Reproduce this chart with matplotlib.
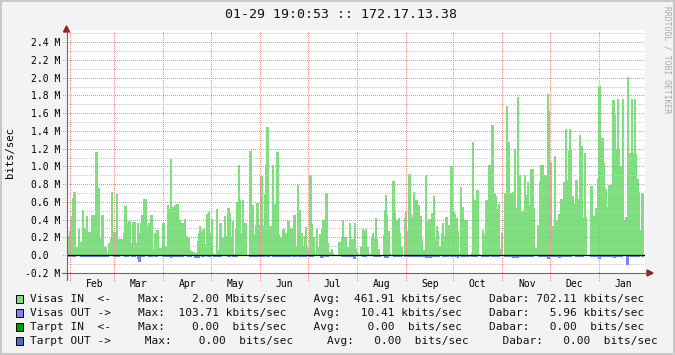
import numpy as np
import matplotlib
matplotlib.use("Agg")
import matplotlib.pyplot as plt
import matplotlib.dates as mdates
from matplotlib.patches import Rectangle, Polygon
from matplotlib.lines import Line2D
from datetime import datetime, timedelta

plt.rcParams['font.family'] = ['DejaVu Sans Mono']

# ---------------- data (one value per time step, Mbit/s and kbit/s) ----------------
visas_in_mbit = [
    .21,.21,.26,.38,.43,.64,.71,.71,.08,.08,
    .08,.29,.05,.14,.14,.50,.30,.30,.30,.44,
    .25,.25,.25,.25,.45,.32,.45,.45,1.16,1.16,
    .75,.75,.19,.13,.45,.45,.08,.08,.08,.02,
    .02,.13,.13,.19,.71,.26,.25,.25,.25,.68,
    .17,.17,.17,.17,.17,.17,.24,.55,.55,.36,
    .09,.38,.38,.13,.13,.37,.37,.37,.13,.13,
    .36,.24,.24,.36,.45,.45,.63,.63,.63,.32,
    .32,.36,.36,.45,.45,.06,.06,.24,.24,.28,
    .28,.07,.07,.07,.07,.36,.36,.10,.10,.10,
    .56,.51,.51,1.08,.54,.54,.43,.56,.56,.57,
    .57,.39,.39,.09,.36,.36,.36,.40,.21,.21,
    .19,.19,.05,.04,.04,.03,.03,.01,.02,.02,
    .15,.24,.32,.26,.26,.29,.29,.12,.12,.46,
    .46,.48,.24,.24,.40,.02,0,.01,.01,.51,
    .05,.05,.35,.35,.19,.19,.19,.44,.21,.21,
    .52,.52,.47,.19,.19,.38,.01,.01,.29,.59,
    .59,1.01,.62,.24,.24,.61,.36,.36,.36,0,
    0,0,1.17,1.17,.42,.56,.23,.13,.33,.58,
    .58,.33,.33,.89,.89,.32,.32,.68,1.01,1.44,
    1.44,.32,.32,.32,.32,1.01,.57,.57,.57,1.16,
    1.16,.23,.20,.20,.18,.29,.29,.24,.24,.24,
    .38,.38,0,.30,.30,.10,.45,.45,.10,.10,
    .79,.50,.50,.10,.24,.10,.10,.21,.31,.09,
    .04,.04,.90,.90,.34,.20,.20,.02,0,.29,
    .08,.08,.23,.23,.29,.39,.39,.39,.69,.69,
    .13,.03,.03,0,.06,.02,0,0,0,0,
    0,.14,.14,.14,.20,.39,.20,.20,.20,.09,
    0,.08,.35,.18,.18,.18,.18,.36,.06,.02,
    .02,0,0,.08,.08,.29,.26,.26,.29,.08,
    .08,.02,0,0,.19,.24,.19,.19,.41,.18,
    .06,.06,0,0,0,0,.22,.50,.67,.45,
    .26,.26,.02,0,0,.83,.83,.50,.39,.39,
    .39,.41,.24,.08,.08,0,0,.41,.48,.26,
    .26,.91,.91,.46,.42,.42,.70,.61,.61,.61,
    .56,.56,.33,.44,.18,.05,.05,.05,.90,.37,
    .37,.40,.40,.14,.47,.47,.66,.18,.18,.32,
    .26,.10,.10,.01,.24,.35,.21,.21,.42,.42,
    .33,.33,.22,1.00,1.00,.48,.48,.46,.41,.41,
    .26,.01,.02,.76,.54,.54,.39,.39,.39,.39,
    0,0,0,0,.02,1.27,.61,.61,.12,.73,
    .73,.01,0,0,0,.28,.23,.23,.61,.61,
    .15,1.01,1.01,.03,1.46,1.46,.69,.69,.66,.51,
    .51,.57,.06,.06,.24,0,0,.69,.69,1.68,
    1.27,1.27,.44,.69,.69,.70,.70,1.19,.52,.52,
    1.78,.90,.90,.49,.49,.49,0,.90,.67,.67,
    .82,.56,.56,.96,.96,.96,.52,.07,.07,0,
    .33,.33,.82,1.01,1.01,1.01,.50,.90,.90,.90,
    1.81,1.62,1.04,1.04,.25,.32,.32,1.11,.38,.38,
    .14,.46,.46,.63,.63,.34,.82,.82,1.42,.84,
    .84,1.18,1.42,1.18,.66,.66,.58,.58,.84,.84,
    .63,.63,1.35,1.22,1.22,.42,.42,1.15,.42,0,
    0,0,0,.77,.77,.36,.44,.44,.53,.53,
    .85,1.90,1.90,1.11,1.31,1.31,1.03,.74,.74,.39,
    .54,.78,.78,.78,.78,1.74,1.74,1.57,1.19,1.19,
    1.75,1.19,1.00,1.00,1.00,1.75,.39,.39,.42,.42,
    2.00,1.14,1.14,1.14,1.75,1.14,1.14,1.75,1.13,.85,
    .85,.70,.28,.28,.69,.69,
]

visas_out_kbit = [
    20,20,20,20,20,20,20,20,0,0,
    0,0,0,15,15,15,15,15,15,15,
    15,15,15,15,20,20,20,20,20,20,
    20,20,20,20,20,15,15,15,15,15,
    15,0,0,0,0,0,15,15,15,15,
    15,15,0,0,0,0,0,15,15,15,
    15,0,0,0,15,15,15,15,0,0,
    40,75,75,15,15,15,15,0,0,0,
    0,15,15,15,15,0,0,15,15,15,
    0,0,0,0,0,15,15,15,15,15,
    15,15,15,25,15,15,15,15,15,15,
    15,15,15,15,15,15,0,0,0,0,
    15,15,15,15,0,0,0,25,25,25,
    25,25,0,0,15,15,15,0,0,0,
    15,15,15,0,0,0,15,15,15,15,
    15,15,15,15,0,0,0,0,0,0,
    15,15,15,0,0,15,15,15,15,15,
    0,0,0,0,0,0,0,0,0,0,
    0,0,15,15,15,15,15,15,15,15,
    15,15,15,15,15,15,15,0,0,15,
    15,15,0,0,0,15,15,15,15,15,
    15,15,15,15,15,15,15,15,15,15,
    15,15,15,0,0,15,15,15,15,0,
    0,15,15,15,15,15,15,15,15,0,
    0,15,15,15,15,15,0,0,0,0,
    0,0,0,25,25,25,0,0,15,15,
    15,0,0,0,0,0,0,0,0,0,
    0,0,0,0,15,15,15,15,15,15,
    15,15,15,15,15,15,40,40,0,0,
    0,0,0,0,0,15,15,15,15,0,
    0,0,0,0,0,0,15,15,15,15,
    15,15,15,0,0,0,0,25,25,25,
    25,0,0,0,0,0,15,15,15,15,
    15,15,15,15,0,0,0,15,15,15,
    15,15,15,15,15,15,15,15,15,15,
    15,15,15,15,15,15,15,15,30,30,
    30,30,30,30,15,15,15,15,15,15,
    15,15,0,0,0,15,15,15,15,15,
    15,0,0,15,15,15,15,15,15,15,
    30,0,0,15,15,15,15,15,15,15,
    15,15,0,0,15,15,15,15,15,15,
    0,0,0,0,15,15,15,15,15,15,
    15,15,0,0,15,15,15,15,15,15,
    15,15,0,0,0,0,0,15,15,15,
    15,15,15,15,15,30,30,30,30,30,
    30,15,15,15,15,15,0,15,15,15,
    15,15,15,15,15,15,0,0,0,0,
    0,15,15,15,15,15,15,15,15,15,
    35,35,15,15,15,15,15,15,15,15,
    15,25,25,0,15,15,15,15,15,15,
    15,0,15,15,0,0,0,0,15,15,
    15,15,15,15,15,15,0,0,0,0,
    0,0,0,15,15,15,15,15,15,15,
    15,45,45,15,15,15,15,15,15,15,
    15,15,15,15,15,15,25,25,15,15,
    15,15,15,15,15,0,0,0,0,104,
    104,15,15,15,15,15,15,15,15,15,
    15,15,0,0,15,15,
]
assert len(visas_in_mbit) == len(visas_out_kbit) == 576

month_labels = ["Feb", "Mar", "Apr", "May", "Jun", "Jul", "Aug", "Sep", "Oct", "Nov", "Dec", "Jan"]
y_major = [-0.2, 0.0, 0.2, 0.4, 0.6, 0.8, 1.0, 1.2, 1.4, 1.6, 1.8, 2.0, 2.2, 2.4]
y_labels = ["-0.2 M", "0.0  ", "0.2 M", "0.4 M", "0.6 M", "0.8 M", "1.0 M", "1.2 M",
            "1.4 M", "1.6 M", "1.8 M", "2.0 M", "2.2 M", "2.4 M"]
y_minor = [-0.1, 0.1, 0.3, 0.5, 0.7, 0.9, 1.1, 1.3, 1.5, 1.7, 1.9, 2.1, 2.3, 2.5]

title = "01-29 19:0:53 :: 172.17.13.38"
legend_rows = [
    "Visas IN  <-    Max:    2.00 Mbits/sec    Avg:  461.91 kbits/sec    Dabar: 702.11 kbits/sec",
    "Visas OUT ->    Max:  103.71 kbits/sec    Avg:   10.41 kbits/sec    Dabar:   5.96 kbits/sec",
    "Tarpt IN  <-    Max:    0.00  bits/sec    Avg:    0.00  bits/sec    Dabar:   0.00  bits/sec",
    "Tarpt OUT ->     Max:    0.00  bits/sec     Avg:   0.00  bits/sec     Dabar:   0.00  bits/sec",
]
legend_colors = ["#80dd80", "#8080ff", "#009900", "#4d6bc4"]

# ---------------- figure ----------------
W, H = 675, 355
fig = plt.figure(figsize=(W / 100, H / 100), dpi=100, facecolor="#f3f3f3")

def fx(px):
    return px / W

def fy(py):
    return 1 - py / H

ax_l, ax_r, ax_t, ax_b = 66.5, 645, 30, 273
ax = fig.add_axes([fx(ax_l), fy(ax_b), (ax_r - ax_l) / W, (ax_b - ax_t) / H])
ax.set_facecolor("white")
for s in ax.spines.values():
    s.set_visible(False)

end = datetime(2011, 1, 29, 19, 0, 53)
start = end - timedelta(days=365)
t0 = mdates.date2num(start)
step = 365.0 / 578.0
n = len(visas_in_mbit)
edges = t0 + (1 + np.arange(n + 1)) * step
ax.set_xlim(t0, t0 + (ax_r - ax_l) * step)
ax.set_ylim(-0.203e6, 2.539e6)

vin = np.array(visas_in_mbit) * 1e6
vout = -np.array(visas_out_kbit) * 1e3
ax.stairs(vin, edges, baseline=0, fill=True, color="#80dd80", lw=0, zorder=1,
          antialiased=False)
ax.stairs(vout, edges, baseline=0, fill=True, color="#8080ff", lw=0, zorder=1,
          antialiased=False)

dot = (0, (0.5, 1.5))
lw = 0.72
for v in y_minor:
    ax.axhline(v * 1e6, color="#c8c8c8", lw=lw, ls=dot, zorder=2, antialiased=False)
for v in y_major:
    ax.axhline(v * 1e6, xmin=-4 / (ax_r - ax_l), xmax=1, clip_on=False,
               color="#e09494", lw=lw, ls=dot, zorder=2, antialiased=False)

month_starts = mdates.MonthLocator().tick_values(start, end)
month_starts = [m for m in month_starts if t0 < m < t0 + 365]
for m in month_starts:
    ax.axvline(m, ymin=-7 / (ax_b - ax_t), ymax=1, clip_on=False,
               color="#e09494", lw=lw, ls=dot, zorder=2, antialiased=False)

label_pos = [m + 15.5 for m in month_starts]
ax.set_xticks(label_pos, month_labels[:len(label_pos)])
ax.set_yticks([v * 1e6 for v in y_major], y_labels)
ax.tick_params(axis="x", length=0, pad=4.2, labelsize=7)
ax.tick_params(axis="y", length=0, pad=4.3, labelsize=7)

ax.axhline(0, color="black", lw=0.9, zorder=3)

# axes lines with arrows (figure pixel coords)
axis_col = "#6a6a6a"
arrow_col = "#8b2020"
fig.add_artist(Line2D([fx(66.5), fx(66.5)], [fy(280), fy(31)], color=axis_col, lw=0.8))
fig.add_artist(Line2D([fx(62), fx(648)], [fy(273), fy(273)], color=axis_col, lw=0.8))
fig.add_artist(Polygon([[fx(63.5), fy(32)], [fx(69.5), fy(32)], [fx(66.5), fy(26)]],
                       closed=True, color=arrow_col, transform=fig.transFigure))
fig.add_artist(Polygon([[fx(647), fy(270)], [fx(647), fy(276)], [fx(653), fy(273)]],
                       closed=True, color=arrow_col, transform=fig.transFigure))

# texts
fig.text(fx(341), fy(14), title, ha="center", va="center", fontsize=9.5, color="#111111")
fig.text(fx(10), fy(152), "bits/sec", rotation=90, ha="center", va="center", fontsize=7.7)
fig.text(fx(667), fy(60), "RRDTOOL / TOBI OETIKER", rotation=270, ha="center", va="center",
         fontsize=5.8, color="#a8a8a8")

for i, (txt, col) in enumerate(zip(legend_rows, legend_colors)):
    yc = 299.3 + 14 * i
    fig.add_artist(Rectangle((fx(15.5), fy(yc + 4)), 7.5 / W, 8 / H, facecolor=col,
                             edgecolor="black", lw=0.7, transform=fig.transFigure))
    fig.text(fx(30), fy(yc), txt, ha="left", va="center", fontsize=8.0, color="#111111")

# outer frame
frame = "#c8c8c8"
fig.add_artist(Rectangle((0, 0), 1, 2 / H, color=frame, transform=fig.transFigure, lw=0))
fig.add_artist(Rectangle((0, 1 - 2 / H), 1, 2 / H, color=frame, transform=fig.transFigure, lw=0))
fig.add_artist(Rectangle((0, 0), 2 / W, 1, color=frame, transform=fig.transFigure, lw=0))
fig.add_artist(Rectangle((1 - 2 / W, 0), 2 / W, 1, color=frame, transform=fig.transFigure, lw=0))

fig.savefig("out.png", dpi=100, facecolor=fig.get_facecolor())
